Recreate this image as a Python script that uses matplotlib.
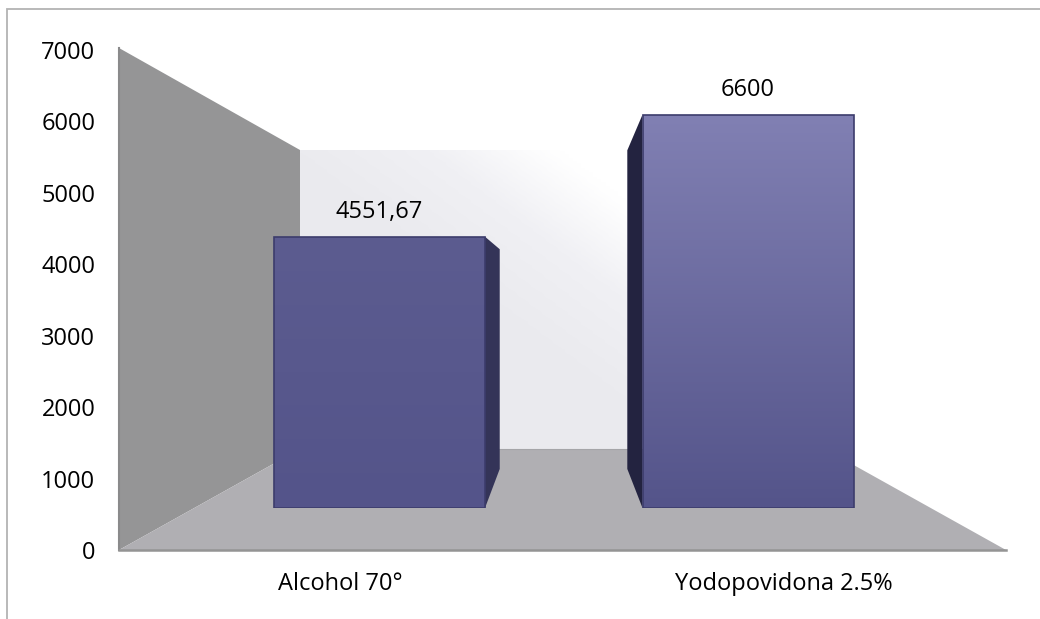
"Bar chart with a fake 3D box, Alcohol vs Yodopovidona"
import matplotlib
matplotlib.use('Agg')
import matplotlib.pyplot as plt
from matplotlib.colors import LinearSegmentedColormap
from matplotlib.patches import Polygon
import numpy as np

categories = ['Alcohol 70°', 'Yodopovidona 2.5%']
values = [4551.67, 6600]
value_labels = ['4551,67', '6600']
y_ticks = [0, 1000, 2000, 3000, 4000, 5000, 6000, 7000]

W, H = 1040, 619
FONT = ['Open Sans', 'DejaVu Sans']
FONT_SIZE = 17
VP = np.array([562.5, 302.5])  # vanishing point of the box
DEPTH = 0.19


def px_axes(fig, left, top, right, bottom, **kwargs):
    return fig.add_axes([left / W, 1 - bottom / H, (right - left) / W,
                         (bottom - top) / H], **kwargs)


def gradient_fill(ax, patch, colors, extent, angle=90):
    cmap = LinearSegmentedColormap.from_list('g', colors)
    xs, ys = np.meshgrid(np.linspace(0, 1, 128), np.linspace(0, 1, 128))
    a = np.deg2rad(angle)
    g = xs * np.cos(a) + ys * np.sin(a)
    g = (g - g.min()) / (g.max() - g.min())
    im = ax.imshow(g, origin='lower', extent=extent, cmap=cmap, aspect='auto',
                   zorder=patch.get_zorder(), interpolation='bilinear')
    im.set_clip_path(patch)


fig = plt.figure(figsize=(W / 100, H / 100), dpi=100, facecolor='white')

# background layer in pixel coordinates: frame and box walls
bg = fig.add_axes([0, 0, 1, 1])
bg.set_xlim(0, W)
bg.set_ylim(H, 0)
bg.axis('off')
bg.plot([7, 7, W], [H, 9, 9], color='#b3b3b3', lw=1.3, solid_joinstyle='miter')

wall = Polygon([(300, 150), (825, 150), (825, 449), (300, 449)], fc='none', ec='none')
bg.add_patch(wall)
gradient_fill(bg, wall,
              [(0, '#e9e9ee'), (0.43, '#ebebef'), (0.57, '#f0f0f4'),
               (0.71, '#ffffff'), (1, '#ffffff')],
              (300, 825, 449, 150), angle=37)
bg.set_xlim(0, W)
bg.set_ylim(H, 0)
bg.add_patch(Polygon([(119, 48), (300, 150), (300, 449), (119, 550)],
                     fc='#959596', ec='none'))
bg.plot([119, 119], [48, 550], color='#8a8a8b', lw=1.5)
bg.add_patch(Polygon([(119, 550), (1006, 550), (825, 449), (300, 449)],
                     fc='#b0afb3', ec='none'))
bg.plot([119, 1006], [550, 550], color='#949494', lw=1.8)
bg.plot([300, 825], [449, 449], color='#a5a5a8', lw=0.8)

# axes with the tick labels, 0 at the front edge of the floor
ax = px_axes(fig, 119, 50, 1006, 550)
ax.patch.set_alpha(0)
ax.set_ylim(0, 7000)
ax.set_yticks(y_ticks)
ax.set_xlim(-0.5, 1.5)
ax.set_xticks(range(len(categories)))
ax.set_xticklabels(categories)
ax.tick_params(length=0, labelsize=FONT_SIZE, pad=16)
ax.tick_params(axis='y', pad=17)
for lab in ax.get_xticklabels() + ax.get_yticklabels():
    lab.set_family(FONT)
for s in ax.spines.values():
    s.set_visible(False)

# bars live on the front plane of the box, which has its own scale
bars_ax = px_axes(fig, 0, 508 - 59.6 * 7, W, 508)
bars_ax.patch.set_alpha(0)
bars_ax.set_xlim(-(379.5 / 368.5), (W - 379.5) / 368.5)
bars_ax.set_ylim(0, 7000)
bars_ax.axis('off')
bars = bars_ax.bar(range(len(values)), values, width=211 / 368.5,
                   fc='none', ec='#3c3c6c', lw=1.2, zorder=3)
bar_colors = [['#54548a', '#5c5c90'], ['#54548a', '#8180b3']]
side_colors = ['#343458', '#232340']
for i, (b, v, cols) in enumerate(zip(bars, values, bar_colors)):
    x0, x1 = b.get_x(), b.get_x() + b.get_width()
    fill = bars_ax.bar(i, v, width=211 / 368.5, fc='none', ec='none', zorder=2)[0]
    gradient_fill(bars_ax, fill, cols, (x0, x1, 0, v))
    bars_ax.set_xlim(-(379.5 / 368.5), (W - 379.5) / 368.5)
    bars_ax.set_ylim(0, 7000)

    # side face goes back towards the vanishing point, on the inner side
    edge = x1 if i == 0 else x0
    to_px = bars_ax.transData.transform
    front = to_px([(edge, 0), (edge, v)])
    front[:, 1] = H - front[:, 1]
    back = front + DEPTH * (VP - front)
    side = np.vstack([front, back[::-1]])
    side[:, 1] = H - side[:, 1]
    side = bars_ax.transData.inverted().transform(side)
    bars_ax.add_patch(Polygon(side, fc=side_colors[i], ec='none', zorder=1))
    bars_ax.annotate(value_labels[i], (i, v), xytext=(0, 13), textcoords='offset pixels',
                     ha='center', va='bottom', fontsize=FONT_SIZE, family=FONT,
                     annotation_clip=False)

fig.savefig('out.png', dpi=100)
